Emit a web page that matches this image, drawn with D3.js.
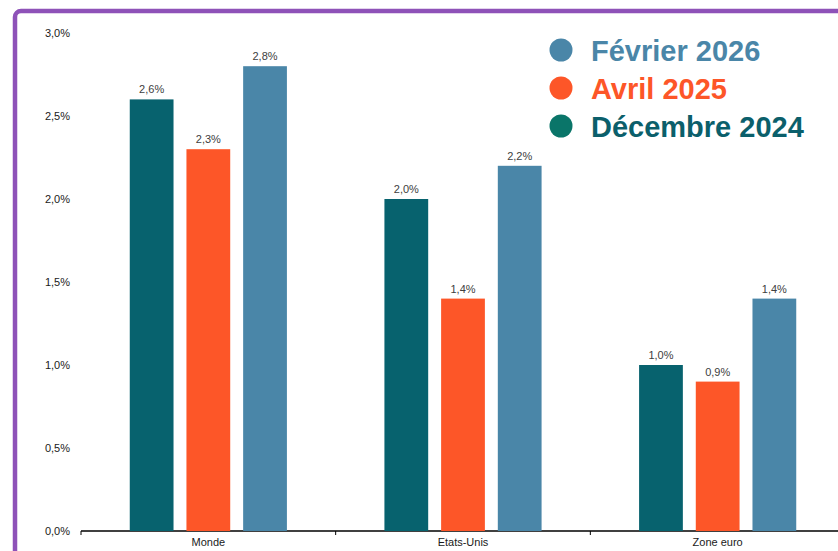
<!DOCTYPE html>
<html>
<head>
<meta charset="utf-8">
<style>
  body { margin: 0; background: #fff; }
  svg { display: block; font-family: "Liberation Sans", Arial, sans-serif; }
  .tick-label { font-size: 11px; fill: #1a1a1a; }
  .bar-label { font-size: 11px; fill: #404040; }
  .legend-label { font-size: 29px; font-weight: bold; }
</style>
<script src="https://d3js.org/d3.v7.min.js"></script>
</head>
<body>
<div id="chart"></div>
<script>
// data
var categories = ["Monde", "Etats-Unis", "Zone euro"];
var series = ["Décembre 2024", "Avril 2025", "Février 2026"];
var dec2024 = [2.6, 2.0, 1.0];
var avr2025 = [2.3, 1.4, 0.9];
var fev2026 = [2.8, 2.2, 1.4];
var yTicks = [0, 0.5, 1.0, 1.5, 2.0, 2.5, 3.0];
var colors = ["#07626e", "#fd5628", "#4a86a8"];
var legendDots = ["#0a7569", "#fd5628", "#4a86a8"];

var W = 838, H = 551;
var svg = d3.select("#chart").append("svg")
    .attr("width", W)
    .attr("height", H);

// purple frame (runs off the right and bottom edges)
svg.append("rect")
    .attr("x", 15).attr("y", 11)
    .attr("width", 900).attr("height", 600)
    .attr("rx", 6)
    .attr("fill", "none")
    .attr("stroke", "#8e52b8")
    .attr("stroke-width", 4.5);

var plotLeft = 81, plotRight = 845, plotTop = 33, plotBottom = 531;

var x0 = d3.scaleBand().domain(categories).range([plotLeft, plotRight]).padding(0);
var x1 = d3.scaleBand().domain(series).range([0, x0.bandwidth()])
    .paddingInner(0.228).paddingOuter(0.86);
var y = d3.scaleLinear().domain([0, 3]).range([plotBottom, plotTop]);

var fmt = function(v) { return d3.format(".1f")(v).replace(".", ",") + "%"; };

// y labels (no axis line)
svg.selectAll(".ylab")
  .data(yTicks)
  .enter().append("text")
    .attr("class", "tick-label")
    .attr("x", 70)
    .attr("y", function(d) { return y(d) + 4; })
    .attr("text-anchor", "end")
    .text(fmt);

// x axis
var xAxis = svg.append("g")
    .attr("transform", "translate(0," + plotBottom + ")");
xAxis.append("line")
    .attr("x1", plotLeft).attr("x2", W)
    .attr("stroke", "#000").attr("stroke-width", 1.3);
xAxis.selectAll(".xt")
  .data(categories.concat(["end"]))
  .enter().append("line")
    .attr("x1", function(d, i) { return plotLeft + i * x0.step(); })
    .attr("x2", function(d, i) { return plotLeft + i * x0.step(); })
    .attr("y1", 0).attr("y2", 4)
    .attr("stroke", "#000");
xAxis.selectAll(".xlab")
  .data(categories)
  .enter().append("text")
    .attr("class", "tick-label")
    .attr("x", function(d) { return x0(d) + x0.bandwidth() / 2; })
    .attr("y", 15)
    .attr("text-anchor", "middle")
    .text(function(d) { return d; });

// bars
var values = [dec2024, avr2025, fev2026];
var rows = [];
categories.forEach(function(c, i) {
  series.forEach(function(s, j) {
    rows.push({cat: c, ser: s, v: values[j][i], color: colors[j]});
  });
});

svg.selectAll(".bar")
  .data(rows)
  .enter().append("rect")
    .attr("x", function(d) { return x0(d.cat) + x1(d.ser); })
    .attr("y", function(d) { return y(d.v); })
    .attr("width", x1.bandwidth())
    .attr("height", function(d) { return plotBottom - y(d.v); })
    .attr("fill", function(d) { return d.color; });

svg.selectAll(".blab")
  .data(rows)
  .enter().append("text")
    .attr("class", "bar-label")
    .attr("x", function(d) { return x0(d.cat) + x1(d.ser) + x1.bandwidth() / 2; })
    .attr("y", function(d) { return y(d.v) - 6; })
    .attr("text-anchor", "middle")
    .text(function(d) { return fmt(d.v); });

// legend (reverse order)
var legend = svg.append("g");
var legendRows = series.map(function(s, i) {
  return {name: s, dot: legendDots[i], color: colors[i]};
}).reverse();
legendRows[2].color = "#0b5f6b";

var lg = legend.selectAll("g")
  .data(legendRows)
  .enter().append("g")
    .attr("transform", function(d, i) { return "translate(561," + (50 + i * 38) + ")"; });
lg.append("circle")
    .attr("r", 11.5)
    .attr("fill", function(d) { return d.dot; });
lg.append("text")
    .attr("class", "legend-label")
    .attr("x", 30)
    .attr("y", 11)
    .attr("fill", function(d) { return d.color; })
    .text(function(d) { return d.name; });
</script>
</body>
</html>
